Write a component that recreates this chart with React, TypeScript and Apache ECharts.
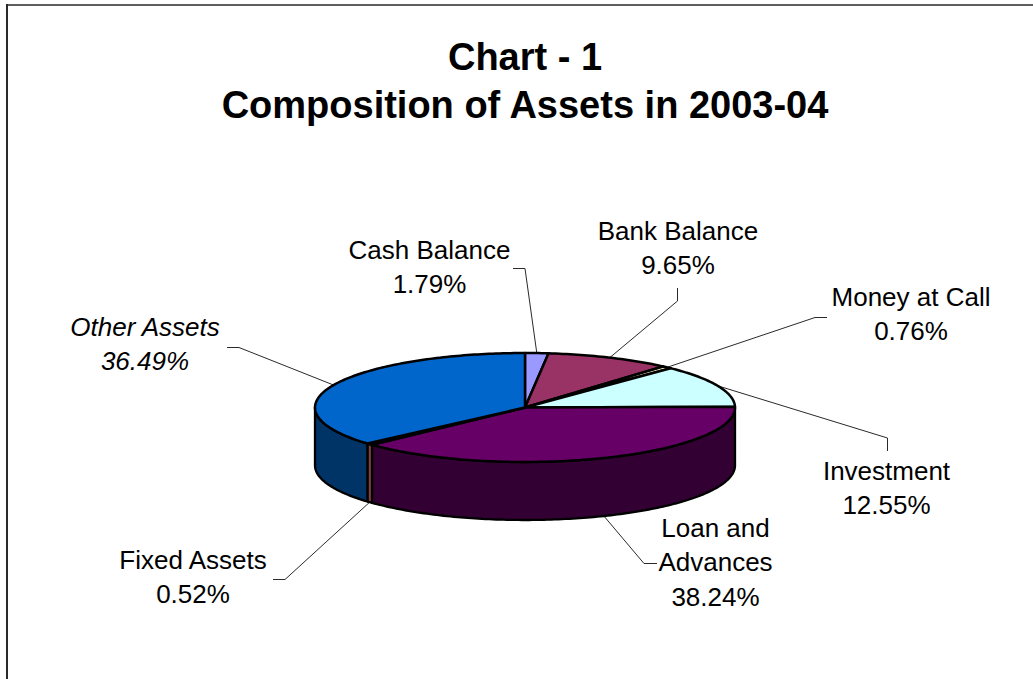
import React, { useEffect, useRef } from "react";
import * as echarts from "echarts";

const titleLines = ["Chart - 1", "Composition of Assets in 2003-04"];
const assetLabels = ["Cash Balance", "Bank Balance", "Money at Call", "Investment", "Loan and\nAdvances", "Fixed Assets", "Other Assets"];
const assetValues = [1.79, 9.65, 0.76, 12.55, 38.24, 0.52, 36.49];

const topColors = ["#9999FF", "#993366", "#FFFFCC", "#CCFFFF", "#660066", "#FF8080", "#0066CC"];
const wallColors = ["#4D4D80", "#4D1A33", "#808066", "#668080", "#330033", "#804040", "#003366"];

// Label centre and the leader's elbow points, page pixels
const labelX = [429.5, 678, 911, 886.5, 715.5, 193, 145];
const labelY = [267, 248, 314, 488, 562, 577, 344];
const elbows: number[][][] = [
  [[525, 268.5], [513, 268.5]],
  [[677.5, 301], [677.5, 288]],
  [[815, 317.5], [827, 317.5]],
  [[887.5, 438], [887.5, 451]],
  [[644, 563.5], [657, 563.5]],
  [[285, 579.5], [273, 579.5]],
  [[239, 347.5], [227, 347.5]],
];

const CX = 525;
const CY = 407.5;
const RX = 210;
const RY = 54.5;
const DEPTH = 58;
const total = assetValues.reduce((a, b) => a + b, 0);
const FRONT_START = Math.PI / 2;
const FRONT_END = (3 * Math.PI) / 2;

const rim = (t: number, dy = 0) => [CX + RX * Math.sin(t), CY - RY * Math.cos(t) + dy];

const arcPoints = (a: number, b: number, dy = 0) => {
  const n = Math.max(2, Math.ceil(((b - a) / (2 * Math.PI)) * 360));
  const pts: number[][] = [];
  for (let i = 0; i <= n; i++) pts.push(rim(a + ((b - a) * i) / n, dy));
  return pts;
};

function renderSlice(params: any, api: any) {
  const i = params.dataIndex;
  const value = api.value(0);
  let before = 0;
  for (let k = 0; k < i; k++) before += assetValues[k];
  const a0 = (before / total) * 2 * Math.PI;
  const a1 = ((before + value) / total) * 2 * Math.PI;
  const mid = (a0 + a1) / 2;
  const children: any[] = [];

  const w0 = Math.max(a0, FRONT_START);
  const w1 = Math.min(a1, FRONT_END);
  if (w1 > w0) {
    children.push({
      type: "polygon",
      z2: 1,
      shape: { points: [...arcPoints(w0, w1), ...arcPoints(w0, w1, DEPTH).reverse()] },
      style: { fill: wallColors[i], stroke: "#000", lineWidth: 2.3, lineJoin: "round" },
    });
  }
  children.push({
    type: "polygon",
    z2: 2,
    shape: { points: [[CX, CY], ...arcPoints(a0, a1)] },
    style: { fill: topColors[i], stroke: "#000", lineWidth: 2.5, lineJoin: "round" },
  });

  const inFront = mid > FRONT_START && mid < FRONT_END;
  const anchor = rim(mid, inFront ? DEPTH : 0);
  children.push({
    type: "polyline",
    z2: 0,
    shape: { points: [anchor, ...elbows[i]] },
    style: { fill: "none", stroke: "#2a2a2a", lineWidth: 1 },
  });
  children.push({
    type: "text",
    z2: 3,
    style: {
      text: `${assetLabels[i]}\n${value.toFixed(2)}%`,
      x: labelX[i],
      y: labelY[i],
      align: "center",
      verticalAlign: "middle",
      fontFamily: "Liberation Sans",
      fontSize: 26,
      lineHeight: 34.5,
      fontStyle: i === 6 ? "italic" : "normal",
      fill: "#000",
    },
  });
  return { type: "group", children };
}

export default function App() {
  const ref = useRef<HTMLDivElement>(null);
  useEffect(() => {
    const chart = echarts.init(ref.current!, null, { renderer: "svg" });
    chart.setOption({
      animation: false,
      backgroundColor: "#fff",
      title: {
        text: titleLines.join("\n"),
        left: 520,
        top: 28,
        textAlign: "center",
        textStyle: { fontFamily: "Liberation Sans", fontWeight: "bold", fontSize: 38, lineHeight: 48, color: "#000" },
      },
      graphic: [
        { type: "line", shape: { x1: 7, y1: 4, x2: 7, y2: 679 }, style: { stroke: "#2a2a2a", lineWidth: 2 } },
        { type: "line", shape: { x1: 6, y1: 5, x2: 1033, y2: 5 }, style: { stroke: "#2a2a2a", lineWidth: 1.5 } },
      ],
      series: [
        {
          type: "custom",
          coordinateSystem: "none",
          silent: true,
          clip: false,
          data: assetValues.map((v) => [v]),
          renderItem: renderSlice,
        },
      ],
    });
    return () => chart.dispose();
  }, []);
  return <div ref={ref} style={{ position: "absolute", left: 0, top: 0, width: 1033, height: 679 }} />;
}
